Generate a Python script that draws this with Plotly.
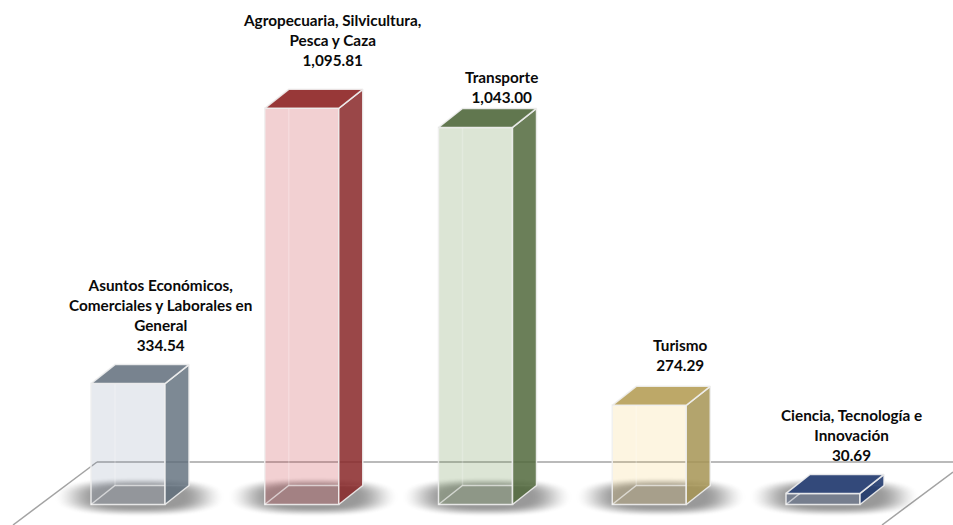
import numpy as np
import plotly.graph_objects as go

W, H = 953, 525

# ---- data ----
labels = [
    "Asuntos Económicos,<br>Comerciales y Laborales en<br>General",
    "Agropecuaria, Silvicultura,<br>Pesca y Caza",
    "Transporte",
    "Turismo",
    "Ciencia, Tecnología e<br>Innovación",
]
values = [334.54, 1095.81, 1043.00, 274.29, 30.69]
value_text = ["334.54", "1,095.81", "1,043.00", "274.29", "30.69"]

# ---- styles ----
front_colors = ["rgba(120,140,165,0.18)", "rgba(200,50,60,0.23)", "rgba(110,145,80,0.24)",
                "rgba(245,190,70,0.16)", "rgba(40,65,120,0.30)"]
side_colors = ["rgba(92,108,121,0.8)", "rgba(136,39,40,0.85)", "rgba(81,105,60,0.85)",
               "rgba(166,148,84,0.85)", "rgba(23,49,105,0.85)"]
top_colors = ["rgba(120,131,143,1)", "rgba(152,56,56,1)", "rgba(97,119,79,1)",
              "rgba(189,168,104,1)", "rgba(51,73,122,1)"]
label_dx = [32, 30, 26, 31, 28]      # px, label centre from bar centre
label_gap = [9, 18, 0, 10, 8]        # px, label bottom above back edge of the top

# pixel scales of the plot
PX_X = 173.75      # px per category
PX_Y = 0.3615      # px per value unit
X0_PX = 128        # pixel of first category
Y0_PX = 504.5      # pixel of value 0
BAR_W = 74 / PX_X
DX = 24 / PX_X     # depth offset
DY = 19 / PX_Y
EDGE = "rgba(240,240,240,0.9)"

x_range = [-X0_PX / PX_X, (W - X0_PX) / PX_X]
y_range = [-(H - Y0_PX) / PX_Y, Y0_PX / PX_Y]
cats = list(range(len(values)))

fig = go.Figure()

# soft floor shadow under each bar
gx = np.arange(0, W, 2.0)
gy = np.arange(468, 522, 1.0)
xx, yy = np.meshgrid(gx, gy)
alpha = np.zeros_like(xx)
for i in cats:
    cx = X0_PX + i * PX_X + 11
    r = (np.abs((xx - cx) / 86) ** 2.6 + np.abs((yy - 496) / 20) ** 2.6) ** (1 / 2.6)
    t = np.clip((1 - r) / 0.5, 0, 1)
    alpha = np.maximum(alpha, t * t * (3 - 2 * t))
fig.add_trace(go.Heatmap(
    x=(gx - X0_PX) / PX_X,
    y=(Y0_PX - gy) / PX_Y,
    z=alpha,
    zmin=0, zmax=1,
    zsmooth="best",
    showscale=False,
    hoverinfo="skip",
    colorscale=[[0, "rgba(70,70,70,0)"], [1, "rgba(70,70,70,0.55)"]],
))

# front faces
fig.add_trace(go.Bar(
    x=cats, y=values, width=BAR_W,
    marker=dict(color=front_colors, line=dict(color=EDGE, width=1.5)),
    hoverinfo="skip",
))

for i, v in enumerate(values):
    l, r = i - BAR_W / 2, i + BAR_W / 2

    # hidden back edges, seen through the front
    fig.add_trace(go.Scatter(
        x=[l, l + DX, r + DX],
        y=[0, DY, DY],
        mode="lines", line=dict(color="rgba(255,255,255,0.6)", width=1.5),
        hoverinfo="skip",
    ))
    fig.add_trace(go.Scatter(
        x=[l + DX, l + DX],
        y=[DY, v + DY],
        mode="lines", line=dict(color="rgba(255,255,255,0.22)", width=1.5),
        hoverinfo="skip",
    ))
    # side
    fig.add_trace(go.Scatter(
        x=[r, r + DX, r + DX, r, r], y=[0, DY, v + DY, v, 0],
        mode="lines", fill="toself", fillcolor=side_colors[i],
        line=dict(color=EDGE, width=1.5), hoverinfo="skip",
    ))
    # top
    fig.add_trace(go.Scatter(
        x=[l, l + DX, r + DX, r, l], y=[v, v + DY, v + DY, v, v],
        mode="lines", fill="toself", fillcolor=top_colors[i],
        line=dict(color=EDGE, width=1.5), hoverinfo="skip",
    ))
    # label
    fig.add_annotation(
        x=i, y=v + DY,
        text="<b>%s<br>%s</b>" % (labels[i], value_text[i]),
        showarrow=False, xanchor="center", yanchor="bottom", align="center",
        xshift=label_dx[i], yshift=label_gap[i],
        font=dict(family="Lato", size=15.3, color="#0a0a0a"),
    )

# floor outline
floor = [
    (97, 462, W, 462),
    (97, 462, 13, H),
    (W, 472, 882, H),
]
for x0, y0, x1, y1 in floor:
    fig.add_shape(
        type="line", xref="paper", yref="paper", layer="below",
        x0=x0 / W, x1=x1 / W, y0=1 - y0 / H, y1=1 - y1 / H,
        line=dict(color="#a3a3a3", width=1.5),
    )

fig.update_layout(
    width=W, height=H,
    margin=dict(l=0, r=0, t=0, b=0),
    paper_bgcolor="white", plot_bgcolor="rgba(0,0,0,0)",
    showlegend=False,
    xaxis=dict(range=x_range, visible=False, fixedrange=True),
    yaxis=dict(range=y_range, visible=False, fixedrange=True),
)

fig.write_html("out.html", config=dict(displayModeBar=False),
               post_script="document.body.style.margin='0';")
